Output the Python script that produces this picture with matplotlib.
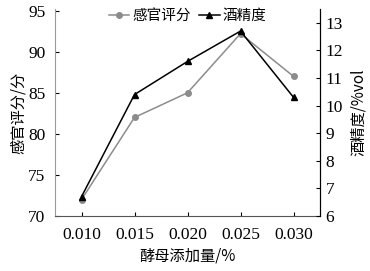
import matplotlib.pyplot as plt
import numpy as np

# 数据
doses = ['0.010', '0.015', '0.020', '0.025', '0.030']
score = [72, 82, 85, 92.2, 87]        # 感官评分/分
alcohol = [6.7, 10.4, 11.6, 12.7, 10.3]  # 酒精度/%vol

cjk = ['Noto Sans CJK SC', 'DejaVu Sans']
plt.rcParams['font.family'] = 'serif'
plt.rcParams['font.serif'] = ['Liberation Serif', 'DejaVu Serif']

fig = plt.figure(figsize=(3.7, 2.71), dpi=100)
ax = fig.add_axes([55 / 370, 1 - 216 / 271, 265 / 370, 207 / 271])
ax2 = ax.twinx()

x = np.arange(len(doses))
l1, = ax.plot(x, score, color='#8c8c8c', marker='o', markersize=4, linewidth=1.1,
              label='感官评分')
l2, = ax2.plot(x, alcohol, color='black', marker='^', markersize=4.5, linewidth=1.1,
               label='酒精度')

ax.set_xlim(-0.5, 4.5)
ax.set_ylim(70, 95.2)
ax.set_yticks([70, 75, 80, 85, 90, 95])
ax2.set_ylim(6, 13.5)
ax2.set_yticks(range(6, 14))
ax.set_xticks(x)
ax.set_xticklabels(doses)

for a in (ax, ax2):
    a.tick_params(direction='in', length=3, labelsize=12.5, width=0.8)
    a.spines['top'].set_visible(False)
    for t in a.get_xticklabels() + a.get_yticklabels():
        t.set_fontfamily('Liberation Serif')
ax.tick_params(axis='x', pad=8)
ax.tick_params(axis='y', pad=7)
ax2.tick_params(axis='y', pad=4)

ax.spines['left'].set_color('#9a9a9a')
ax.spines['bottom'].set_color('#555555')
ax2.spines['left'].set_visible(False)
ax2.spines['bottom'].set_visible(False)
ax2.spines['right'].set_color('black')

ax.set_xlabel('酵母添加量/%', fontsize=11, family=cjk, labelpad=3)
ax.set_ylabel('感官评分/分', fontsize=11, family=cjk, labelpad=1)
ax2.set_ylabel('酒精度/%vol', fontsize=11, family=cjk, labelpad=5)

leg = ax.legend([l1, l2], ['感官评分', '酒精度'], loc='upper center', ncol=2,
                frameon=False, prop={'family': cjk, 'size': 10.5},
                bbox_to_anchor=(0.5, 1.03), handlelength=1.4, handletextpad=0.2,
                columnspacing=0.6, borderaxespad=0)

fig.savefig('out.png', dpi=100)
